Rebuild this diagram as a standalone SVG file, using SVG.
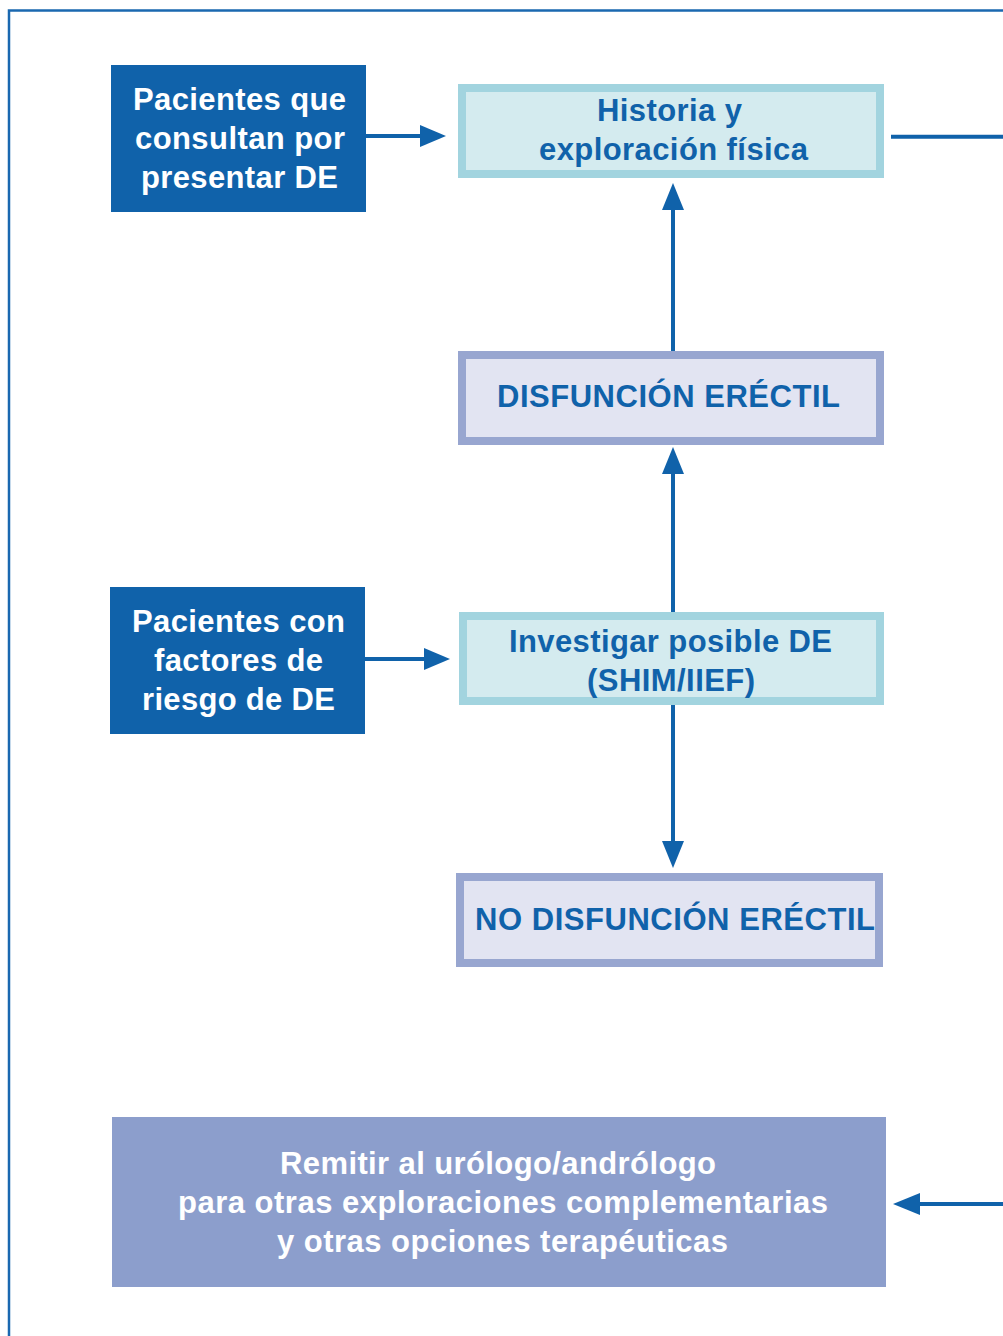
<svg xmlns="http://www.w3.org/2000/svg" width="1003" height="1336" viewBox="0 0 1003 1336">
<defs>
<style>
.t{font-family:"Liberation Sans",Arial,sans-serif;font-weight:bold;font-size:31px}
.w{fill:#ffffff}
.b{fill:#1062aa}
.dark{fill:#1062aa}
.teal{fill:#d4ebef;stroke:#a2d4df;stroke-width:8}
.lav{fill:#e2e4f2;stroke:#98a6d0;stroke-width:8}
.ref{fill:#8c9ecc}
.ln{stroke:#1062aa;stroke-width:4;fill:none}
.ah{fill:#1062aa}
</style>
</defs>
<rect width="1003" height="1336" fill="#ffffff"/>
<path d="M9,1336 V10.5 H1003" fill="none" stroke="#1a68b0" stroke-width="2.5"/>

<g id="n-pacientes-consultan">
<rect class="dark" x="111" y="65" width="255" height="147"/>
<text class="t w" x="133" y="110" textLength="213" lengthAdjust="spacing">Pacientes que</text>
<text class="t w" x="135" y="149" textLength="210" lengthAdjust="spacing">consultan por</text>
<text class="t w" x="141" y="188" textLength="197" lengthAdjust="spacing">presentar DE</text>
</g>

<g id="n-historia">
<rect class="teal" x="462" y="88" width="418" height="86"/>
<text class="t b" x="597" y="121" textLength="145" lengthAdjust="spacing">Historia y</text>
<text class="t b" x="539" y="160" textLength="269" lengthAdjust="spacing">exploración física</text>
</g>

<g id="n-disfuncion">
<rect class="lav" x="462" y="355" width="418" height="86"/>
<text class="t b" x="497" y="407" textLength="343" lengthAdjust="spacing">DISFUNCIÓN ERÉCTIL</text>
</g>

<g id="n-pacientes-riesgo">
<rect class="dark" x="110" y="587" width="255" height="147"/>
<text class="t w" x="132" y="632" textLength="213" lengthAdjust="spacing">Pacientes con</text>
<text class="t w" x="154" y="671" textLength="169" lengthAdjust="spacing">factores de</text>
<text class="t w" x="142" y="710" textLength="193" lengthAdjust="spacing">riesgo de DE</text>
</g>

<g id="n-investigar">
<rect class="teal" x="463" y="616" width="417" height="85"/>
<text class="t b" x="509" y="652" textLength="323" lengthAdjust="spacing">Investigar posible DE</text>
<text class="t b" x="587" y="691" textLength="168" lengthAdjust="spacing">(SHIM/IIEF)</text>
</g>

<g id="n-no-disfuncion">
<rect class="lav" x="460" y="877" width="419" height="86"/>
<text class="t b" x="475" y="930" textLength="400" lengthAdjust="spacing">NO DISFUNCIÓN ERÉCTIL</text>
</g>

<g id="n-remitir">
<rect class="ref" x="112" y="1117" width="774" height="170"/>
<text class="t w" x="280" y="1174" textLength="436" lengthAdjust="spacing">Remitir al urólogo/andrólogo</text>
<text class="t w" x="178" y="1213" textLength="650" lengthAdjust="spacing">para otras exploraciones complementarias</text>
<text class="t w" x="277" y="1252" textLength="451" lengthAdjust="spacing">y otras opciones terapéuticas</text>
</g>

<g id="connectors">
<line class="ln" x1="366" y1="136" x2="422" y2="136"/>
<polygon class="ah" points="446,136 420,125 420,147"/>
<line class="ln" x1="891" y1="136.7" x2="1003" y2="136.7"/>
<line class="ln" x1="673" y1="351" x2="673" y2="207"/>
<polygon class="ah" points="673,183 662,210 684,210"/>
<line class="ln" x1="673" y1="612" x2="673" y2="471"/>
<polygon class="ah" points="673,447 662,474 684,474"/>
<line class="ln" x1="673" y1="705" x2="673" y2="844"/>
<polygon class="ah" points="673,868 662,841 684,841"/>
<line class="ln" x1="365" y1="659" x2="426" y2="659"/>
<polygon class="ah" points="450,659 424,648 424,670"/>
<line class="ln" x1="1003" y1="1204" x2="917" y2="1204"/>
<polygon class="ah" points="893,1204 920,1193 920,1215"/>
</g>
</svg>
